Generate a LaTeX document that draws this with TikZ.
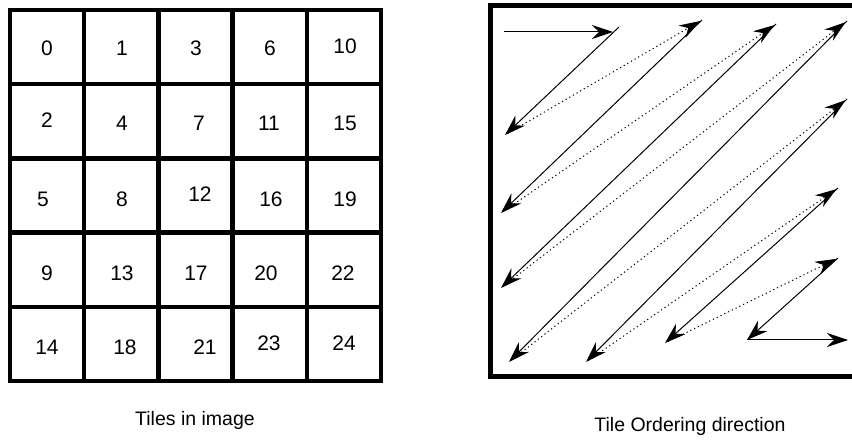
\documentclass[tikz,border=0pt]{standalone}
\usepackage{fontspec}
\setmainfont{Liberation Sans}
\usetikzlibrary{arrows.meta}
\tikzset{
  cellline/.style={line width=4.5pt},
  frame/.style={line width=5pt},
  tilenum/.style={font=\fontsize{21}{25}\selectfont, inner sep=0pt},
  caption/.style={font=\fontsize{19.5}{23}\selectfont, anchor=base, inner sep=0pt},
  order/.style={-{Stealth[length=21pt,width=14pt,inset=7pt]}, line width=1pt},
  jump/.style={order, dash pattern=on 1.2pt off 3pt, shorten <=3pt, shorten >=2pt}
}
\begin{document}
\begin{tikzpicture}[x=1pt,y=-1pt]
\clip (0,0) rectangle (852,443);
\fill[white] (0,0) rectangle (852,443);

\draw[cellline] (10,10) rectangle (381,381);
\foreach \i in {1,...,4} {
  \draw[cellline] (10+74.2*\i,10) -- (10+74.2*\i,381);
  \draw[cellline] (10,10+74.2*\i) -- (381,10+74.2*\i);
}
\foreach \t/\x/\y in {0/47/48, 1/122/48, 3/196/48, 6/270/48, 10/345/46,
                      2/47/120, 4/122/123, 7/199/123, 11/269/123, 15/345/123,
                      5/43/199, 8/122/199, 12/200/194, 16/271/199, 19/345/199,
                      9/47/273, 13/122/273, 17/196/273, 20/266/273, 22/343/273,
                      14/47/347, 18/125/347, 21/205/347, 23/269/343, 24/344/343}
  \node[tilenum] (n\t) at (\x,\y) {\t};
\node[caption] (left) at (195,426) {Tiles in image};

\draw[frame] (490,6) rectangle (862,377);
\coordinate (s0) at (504,32);
\coordinate (e0) at (613,32);
\coordinate (t1) at (619,27);
\coordinate (b1) at (505,135);
\coordinate (t2) at (702,20);
\coordinate (b2) at (501,213);
\coordinate (t3) at (776,24);
\coordinate (b3) at (501,288);
\coordinate (t4) at (847,21);
\coordinate (b4) at (509,362);
\coordinate (t5) at (847,99);
\coordinate (b5) at (586,362);
\coordinate (t6) at (838,188);
\coordinate (b6) at (665,343);
\coordinate (t7) at (838,258);
\coordinate (b7) at (747,340);
\coordinate (e7) at (848,340);

\draw[order] (s0) -- (e0);
\draw[order] (t1) -- (b1);
\draw[jump] (b1) -- (t2);
\draw[order] (t2) -- (b2);
\draw[jump] (b2) -- (t3);
\draw[order] (t3) -- (b3);
\draw[jump] (b3) -- (t4);
\draw[order] (t4) -- (b4);
\draw[jump] (b4) -- (t5);
\draw[order] (t5) -- (b5);
\draw[jump] (b5) -- (t6);
\draw[order] (t6) -- (b6);
\draw[jump] (b6) -- (t7);
\draw[order] (t7) -- (b7);
\draw[order] (b7) -- (e7);
\node[caption] (right) at (690,432) {Tile Ordering direction};
\end{tikzpicture}
\end{document}
